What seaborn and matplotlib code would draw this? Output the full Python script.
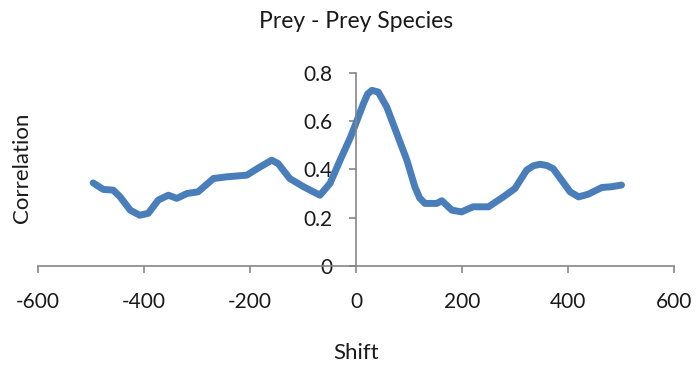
import matplotlib
matplotlib.use("Agg")
import matplotlib.pyplot as plt
import seaborn as sns
import pandas as pd

shift = [-496, -477, -458, -445, -426, -408, -392, -373, -354, -338, -319, -298,
         -269, -244, -206, -181, -159, -147, -125, -99, -68, -49, -30, -11, -2,
         14, 22, 30, 42, 58, 77, 96, 111, 120, 130, 152, 162, 181, 199, 221, 250, 278,
         300, 322, 335, 347, 360, 372, 388, 404, 420, 438, 464, 482, 501]
correlation = [0.344, 0.317, 0.314, 0.286, 0.231, 0.21, 0.218, 0.273, 0.293, 0.28,
               0.30, 0.307, 0.362, 0.369, 0.376, 0.41, 0.438, 0.424, 0.362, 0.328,
               0.293, 0.342, 0.438, 0.53, 0.58, 0.672, 0.712, 0.727, 0.72, 0.658, 0.548,
               0.438, 0.328, 0.282, 0.259, 0.259, 0.27, 0.231, 0.224, 0.245, 0.245, 0.286,
               0.321, 0.397, 0.415, 0.421, 0.416, 0.403, 0.355, 0.307, 0.286, 0.297, 0.325, 0.328,
               0.335]
x_ticks = [-600, -400, -200, 0, 200, 400, 600]
y_ticks = [0, 0.2, 0.4, 0.6, 0.8]
title = "Prey - Prey Species"
x_label = "Shift"
y_label = "Correlation"

sns.set_style("white")
plt.rcParams['font.family'] = ['Lato', 'DejaVu Sans']

df = pd.DataFrame({"Shift": shift, "Correlation": correlation})

fig = plt.figure(figsize=(6.96, 3.70), dpi=100)
ax = fig.add_axes([38/696, 1 - 266/370, (674-38)/696, (266-72.7)/370])
sns.lineplot(data=df, x="Shift", y="Correlation", ax=ax, color="#4A7EBB",
             linewidth=5.0, solid_capstyle="round", solid_joinstyle="round")

ax.set_xlim(-600, 600)
ax.set_ylim(0, 0.8)
ax.set_xticks(x_ticks)
ax.set_xticklabels([str(v) for v in x_ticks])
ax.set_yticks(y_ticks)
ax.set_yticklabels(["0", "0.2", "0.4", "0.6", "0.8"])
ax.set_xlabel("")
ax.set_ylabel("")

gray = "#868686"
for s in ["top", "right"]:
    ax.spines[s].set_visible(False)
ax.spines["left"].set_position(("data", 0))
ax.spines["bottom"].set_position(("data", 0))
ax.spines["left"].set_color(gray)
ax.spines["bottom"].set_color(gray)
ax.spines["left"].set_linewidth(1.2)
ax.spines["bottom"].set_linewidth(1.2)

ax.tick_params(axis="x", direction="out", length=5, width=1.2, color=gray,
               pad=14, labelsize=15, labelcolor="#1a1a1a", bottom=True)
ax.tick_params(axis="y", direction="out", length=5, width=1.2, color=gray,
               pad=12, labelsize=15, labelcolor="#1a1a1a", left=True)

fig.text(356/696, 1 - 22/370, title, ha="center", va="center", fontsize=16.5, color="#1a1a1a")
fig.text(356/696, 1 - 353/370, x_label, ha="center", va="center", fontsize=16, color="#1a1a1a")
fig.text(22/696, 1 - 168/370, y_label, ha="center", va="center", rotation=90, fontsize=16, color="#1a1a1a")

fig.savefig("out.png", dpi=100)
